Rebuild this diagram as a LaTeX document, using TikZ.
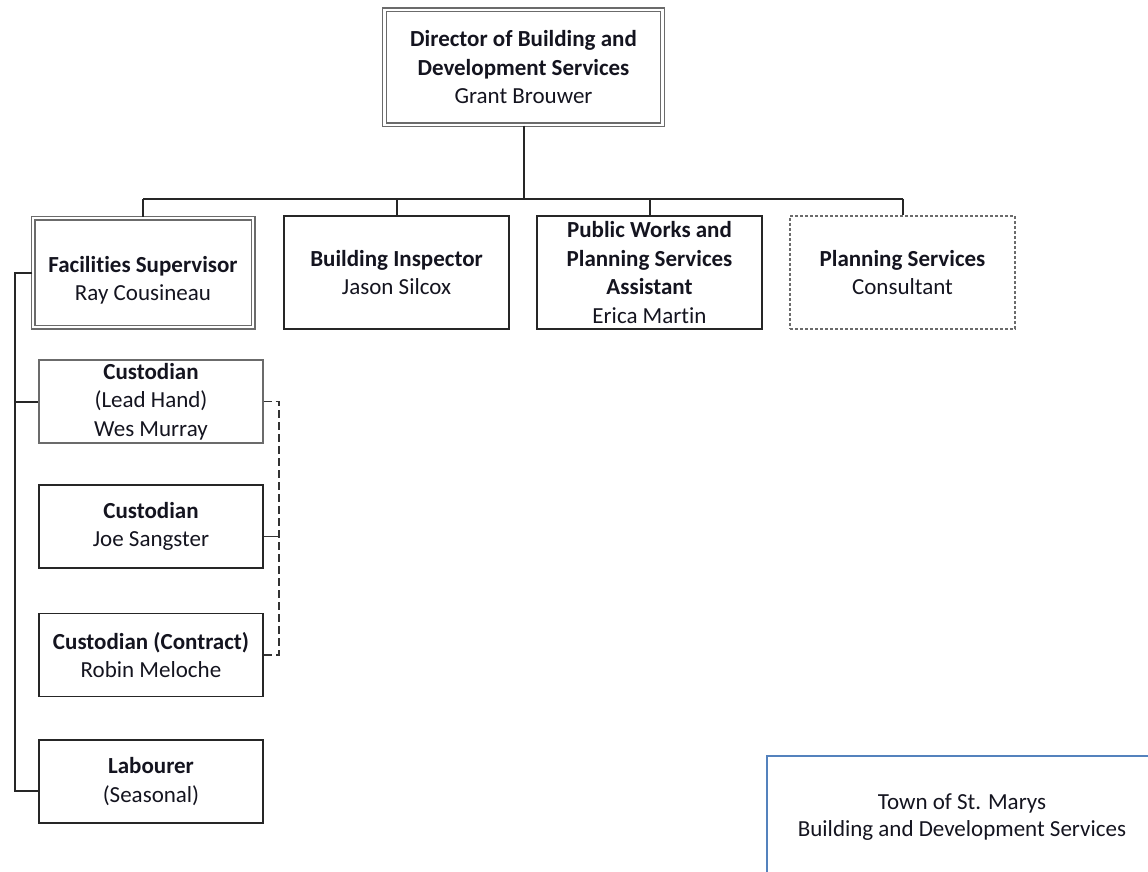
\documentclass[tikz,border=0pt]{standalone}
\usepackage{fontspec}
\setmainfont{Carlito}[Ligatures=NoCommon]
\usepackage{tikz}
\usetikzlibrary{positioning}
\usetikzlibrary{calc}
\definecolor{mgray}{rgb}{0.42, 0.42, 0.42}
\definecolor{mtext}{rgb}{0.08, 0.08, 0.12}
\definecolor{mblue}{rgb}{0.33, 0.51, 0.74}
\tikzset{box/.style = {draw=black!85, line width=1.6pt, align=center, inner sep=0pt,
                       minimum width=225pt, minimum height=113pt, text=mtext,
                       font=\fontsize{23}{28.5}\selectfont},
         dbox/.style = {box, draw=mgray, line width=1.4pt, double=white,
                        double distance=2.2pt},
         pbox/.style = {box, draw=mgray, line width=1.4pt, dash pattern=on 3pt off 2pt},
         cbox/.style = {box, minimum width=224pt, minimum height=83pt},
         link/.style = {draw=black!85, line width=2pt}}

\begin{document}
\begin{tikzpicture}[x=1pt, y=-1pt]
      \useasboundingbox (0, 0) rectangle (1148, 872);

      \node [dbox, minimum width=278pt, minimum height=115pt] (dir) at (523.5, 67.5)
            {\textbf{Director of Building and}\\\textbf{Development Services}\\Grant Brouwer};

      \node [dbox, minimum width=220pt, minimum height=109pt] (fac) at (143, 272.5)
            {\rule{0pt}{32pt}\textbf{Facilities Supervisor}\\Ray Cousineau};
      \node [box] (insp) at (396.5, 272.5) {\textbf{Building Inspector}\\Jason Silcox};
      \node [box] (pw) at (649.5, 272.5)
            {\textbf{Public Works and}\\\textbf{Planning Services}\\\textbf{Assistant}\\Erica Martin};
      \node [pbox] (plan) at (902.5, 272.5) {\textbf{Planning Services}\\Consultant};

      \node [cbox, draw=mgray, line width=1.2pt] (lead) at (151, 401.5)
            {\textbf{Custodian}\\(Lead Hand)\\Wes Murray};
      \node [cbox] (joe) at (151, 526.5) {\textbf{Custodian}\\Joe Sangster};
      \node [cbox] (con) at (151, 655) {\textbf{Custodian (Contract)}\\Robin Meloche};
      \node [cbox] (lab) at (151, 781.5) {\textbf{Labourer}\\(Seasonal)};

      % director to the four below
      \coordinate (bar) at (0, 198.5);
      \draw [link] (dir.south) -- (dir.south |- bar);
      \draw [link] (fac.north |- bar) -- (plan.north |- bar);
      \foreach \n in {fac, insp, pw, plan}
        \draw [link] (\n.north |- bar) -- (\n.north);

      % facilities staff
      \coordinate (rail) at (15, 0);
      \coordinate (labtick) at ([yshift=-9pt] lab.west);
      \draw [link] (fac.west) -- (fac.west -| rail) -- (labtick -| rail) -- (labtick);
      \draw [link] (lead.west -| rail) -- (lead.west);

      % custodians, dashed
      \coordinate (dash) at (279, 0);
      \coordinate (joetick) at ([yshift=-10pt] joe.east);
      \draw [draw=black!80, line width=1.6pt, dash pattern=on 8pt off 4pt]
            (lead.east) -- (lead.east -| dash) -- (con.east -| dash) -- (con.east);
      \draw [draw=black!80, line width=1.6pt] (joetick) -- (joetick -| dash);

      % title box, cut off by the page
      \begin{scope}
        \clip (0, 0) rectangle (1148, 872);
        \draw [mblue, line width=1.8pt] (767, 756) rectangle (1160, 900);
        \node [align=center, text=mtext, font=\fontsize{23}{27.5}\selectfont] (title) at (962, 817)
              {Town of St. Marys\\Building and Development Services};
      \end{scope}
\end{tikzpicture}
\end{document}
